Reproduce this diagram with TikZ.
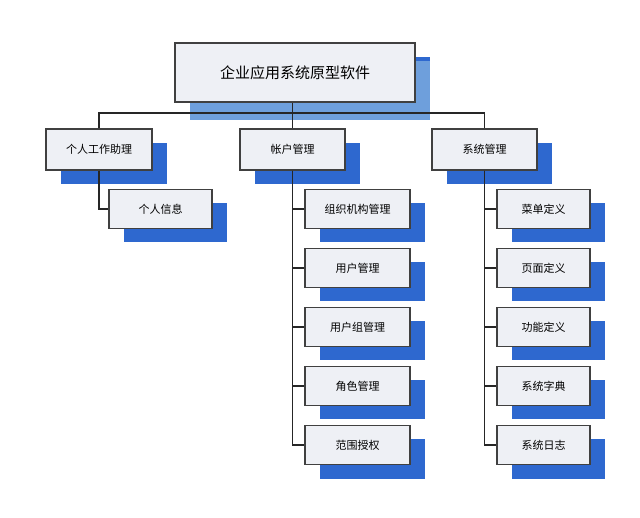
\documentclass[tikz,border=0pt]{standalone}
\usepackage{fontspec}
\setmainfont{Noto Sans CJK SC}
\usetikzlibrary{shadows}

\definecolor{shadowblue}{HTML}{2E68CF}
\definecolor{topblue}{HTML}{6E9FDC}
\definecolor{boxfill}{HTML}{EEF0F5}
\tikzset{
  box/.style={draw=black!75, line width=1.3pt, fill=boxfill, font=\fontsize{11}{13}\selectfont,
    minimum height=39pt, inner sep=0pt,
    drop shadow={shadow xshift=15pt, shadow yshift=-14pt, fill=shadowblue, opacity=1}},
  link/.style={draw=black!85, line width=1.1pt}
}

\begin{document}
\begin{tikzpicture}[x=1pt, y=-1pt]
    \useasboundingbox (0,0) rectangle (640,518);

    \node [box, minimum width=240pt, minimum height=59pt, font=\fontsize{15}{17}\selectfont,
        drop shadow={shadow xshift=15pt, shadow yshift=-18pt, fill=topblue, opacity=1}]
        (root) at (295, 72.5) {企业应用系统原型软件};

    \node [box, minimum width=106pt, minimum height=41pt] (work) at (99, 149.5) {个人工作助理};
    \node [box, minimum width=105pt, minimum height=41pt] (acct) at (292.5, 149.5) {帐户管理};
    \node [box, minimum width=105pt, minimum height=41pt] (sys)  at (484.5, 149.5) {系统管理};

    \node [box, minimum width=103pt] (info) at (160.5, 209) {个人信息};

    \node [box, minimum width=105pt] (org)   at (357.5, 209) {组织机构管理};
    \node [box, minimum width=105pt] (user)  at (357.5, 268) {用户管理};
    \node [box, minimum width=105pt] (group) at (357.5, 327) {用户组管理};
    \node [box, minimum width=105pt] (role)  at (357.5, 386) {角色管理};
    \node [box, minimum width=105pt] (scope) at (357.5, 445) {范围授权};

    \node [box, minimum width=93pt] (menu) at (543.5, 209) {菜单定义};
    \node [box, minimum width=93pt] (page) at (543.5, 268) {页面定义};
    \node [box, minimum width=93pt] (func) at (543.5, 327) {功能定义};
    \node [box, minimum width=93pt] (dict) at (543.5, 386) {系统字典};
    \node [box, minimum width=93pt] (log)  at (543.5, 445) {系统日志};

    \coordinate (bus) at (292.5, 113);
	\draw [link] (bus |- root.south) -- (bus);
	\draw [link] (work.north) |- (bus) -| (sys.north);
	\draw [link] (bus) -- (acct.north);

	\draw [link] (work.south) |- (info.west);
	\foreach \n in {org, user, group, role, scope}
	    \draw [link] (acct.south) |- (\n.west);
	\foreach \n in {menu, page, func, dict, log}
	    \draw [link] (sys.south) |- (\n.west);
\end{tikzpicture}
\end{document}
